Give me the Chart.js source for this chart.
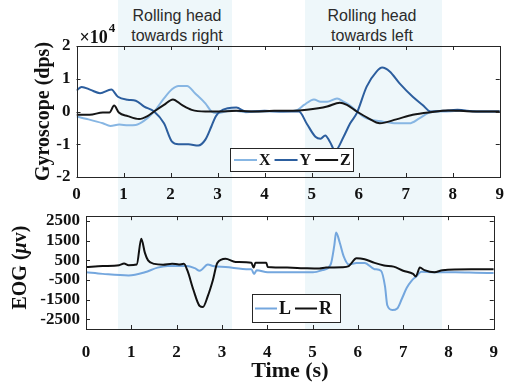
<!DOCTYPE html>
<html>
<head>
<meta charset="utf-8">
<script src="https://cdn.jsdelivr.net/npm/chart.js@4.4.0/dist/chart.umd.min.js"></script>
<style>
  html, body { margin: 0; padding: 0; background: #fff; }
  #fig { position: relative; width: 511px; height: 385px; overflow: hidden; }
  .shade { position: absolute; top: 0; height: 329px; background: #eef7fa; }
  #shadeRight { left: 118px; width: 114px; }
  #shadeLeft { left: 305px; width: 137px; }
  .note { position: absolute; top: 6px; width: 130px; text-align: center;
          font: 16px "Liberation Sans", Arial, sans-serif; line-height: 20px; color: #2b2b2b; }
  #noteRight { left: 112px; }
  #noteLeft { left: 307px; }
  #topBox { position: absolute; left: 0; top: 0; width: 511px; height: 210px; }
  #botBox { position: absolute; left: 0; top: 200px; width: 511px; height: 185px; }
</style>
</head>
<body>
<div id="fig">
  <div class="shade" id="shadeRight"></div>
  <div class="shade" id="shadeLeft"></div>
  <div class="note" id="noteRight">Rolling head<br>towards right</div>
  <div class="note" id="noteLeft">Rolling head<br>towards left</div>
  <div id="topBox"><canvas id="gyroChart"></canvas></div>
  <div id="botBox"><canvas id="eogChart"></canvas></div>
</div>
<script>
// gyroscope, in units of 10^4 dps
const gyroXTime = [0, 0.2, 0.56, 0.72, 0.91, 1.1, 1.26, 1.44, 1.65, 1.86, 2.03, 2.17, 2.35, 2.52, 2.74, 2.87, 3.0, 3.3, 3.6, 4.0, 4.4, 4.7, 4.84, 5.05, 5.19, 5.33, 5.54, 5.68, 5.89, 5.96, 6.17, 6.52, 6.8, 7.08, 7.29, 7.53, 7.8, 8.2, 8.6, 9];
const gyroX = [-0.15, -0.22, -0.36, -0.44, -0.4, -0.42, -0.41, -0.28, 0.0, 0.4, 0.68, 0.78, 0.78, 0.56, 0.25, 0.0, -0.05, 0.03, -0.02, 0.0, 0.0, 0.05, 0.2, 0.37, 0.3, 0.3, 0.4, 0.3, 0.1, 0.0, -0.21, -0.31, -0.36, -0.36, -0.21, -0.02, 0.0, 0.02, 0.0, 0.0];

const gyroYTime = [0, 0.11, 0.3, 0.5, 0.74, 0.88, 1.09, 1.26, 1.44, 1.65, 1.86, 2.03, 2.17, 2.38, 2.59, 2.74, 2.87, 2.96, 3.05, 3.22, 3.4, 3.6, 4.0, 4.4, 4.73, 4.9, 5.08, 5.19, 5.29, 5.39, 5.5, 5.68, 5.82, 5.96, 6.17, 6.38, 6.5, 6.66, 6.87, 7.15, 7.36, 7.53, 7.8, 8.1, 8.5, 9];
const gyroY = [0.64, 0.75, 0.66, 0.56, 0.67, 0.45, 0.36, 0.33, 0.15, 0.0, -0.36, -0.92, -1.0, -1.0, -1.04, -0.86, -0.45, -0.15, 0.0, 0.1, 0.12, 0.0, 0.02, 0.0, 0.0, -0.38, -0.77, -0.83, -0.73, -0.93, -1.2, -0.77, -0.36, -0.05, 0.76, 1.22, 1.34, 1.22, 0.86, 0.45, 0.2, 0.0, 0.02, 0.05, 0.0, 0.0];

const gyroZTime = [0, 0.28, 0.56, 0.7, 0.8, 0.9, 1.09, 1.33, 1.51, 1.65, 1.86, 2.05, 2.24, 2.45, 2.74, 3.0, 3.4, 3.8, 4.2, 4.6, 4.9, 5.33, 5.6, 5.75, 5.96, 6.2, 6.45, 6.8, 7.15, 7.53, 7.9, 8.3, 8.7, 9];
const gyroZ = [-0.1, -0.1, -0.03, -0.03, 0.18, -0.03, -0.14, -0.23, -0.14, 0.0, 0.2, 0.37, 0.2, 0.05, 0.0, 0.0, 0.02, 0.0, 0.02, 0.02, 0.05, 0.15, 0.27, 0.2, 0.0, -0.2, -0.36, -0.24, -0.1, -0.02, 0.03, 0.01, 0.0, 0.0];

// EOG, in microvolts
const eogLTime = [0, 0.37, 0.94, 1.3, 1.58, 1.8, 2.23, 2.4, 2.51, 2.69, 2.8, 3.08, 3.6, 3.65, 3.71, 3.77, 4.01, 4.6, 5.01, 5.22, 5.4, 5.48, 5.52, 5.6, 5.69, 5.8, 5.97, 6.15, 6.37, 6.51, 6.6, 6.65, 6.76, 6.87, 6.97, 7.08, 7.19, 7.3, 7.4, 7.69, 8.15, 8.6, 9];
const eogL = [-110, -190, -270, -110, 130, 210, 210, 100, -30, 290, 210, 160, 50, 50, -190, 0, -110, -110, -110, 0, 290, 1250, 1920, 1410, 690, 290, 370, 370, 50, -30, -830, -1790, -2030, -1950, -1470, -900, -530, -300, -80, -110, -110, -130, -150];

const eogRTime = [0, 0.37, 0.73, 0.84, 0.94, 1.12, 1.22, 1.3, 1.37, 1.51, 1.7, 1.9, 2.05, 2.16, 2.24, 2.37, 2.51, 2.58, 2.69, 2.8, 2.9, 3.08, 3.3, 3.65, 3.7, 3.74, 3.98, 4.01, 4.44, 4.8, 5.15, 5.3, 5.65, 5.8, 5.97, 6.15, 6.37, 6.58, 6.79, 7.0, 7.22, 7.28, 7.37, 7.47, 7.69, 7.87, 8.5, 9];
const eogR = [160, 210, 250, 335, 250, 290, 1600, 880, 500, 320, 280, 330, 290, 320, -30, -1000, -1830, -1880, -1310, -510, 370, 577, 420, 375, 130, 375, 375, 160, 130, 100, 80, 130, 150, 210, 610, 560, 370, 240, 180, -30, -190, -320, 130, 0, -110, 0, 50, 50];

const timeTicks = [0, 1, 2, 3, 4, 5, 6, 7, 8, 9];
const gyroTicks = [-2, -1, 0, 1, 2];
const eogTicks = [-2500, -1500, -500, 500, 1500, 2500];

const SERIF = '"Liberation Serif", "Times New Roman", serif';
const INK = '#111';
const AXIS = '#262626';

function pts(t, v) {
  return t.map((x, i) => ({ x: x, y: v[i] }));
}

function fixTicks(list) {
  return (scale) => { scale.ticks = list.map(v => ({ value: v })); };
}

// MATLAB style box with inward ticks on all four sides
const framePlugin = {
  id: 'frame',
  afterDatasetsDraw(chart) {
    const { ctx, chartArea: a, scales } = chart;
    const len = 4;
    ctx.save();
    ctx.strokeStyle = AXIS;
    ctx.lineWidth = 1;
    ctx.beginPath();
    scales.x.ticks.forEach(t => {
      const px = Math.round(scales.x.getPixelForValue(t.value)) + 0.5;
      ctx.moveTo(px, a.bottom); ctx.lineTo(px, a.bottom - len);
      ctx.moveTo(px, a.top); ctx.lineTo(px, a.top + len);
    });
    scales.y.ticks.forEach(t => {
      const py = Math.round(scales.y.getPixelForValue(t.value)) + 0.5;
      ctx.moveTo(a.left, py); ctx.lineTo(a.left + len, py);
      ctx.moveTo(a.right, py); ctx.lineTo(a.right - len, py);
    });
    ctx.stroke();
    ctx.strokeRect(Math.round(a.left) + 0.5, Math.round(a.top) + 0.5,
                   Math.round(a.width), Math.round(a.height));
    ctx.restore();
  }
};

// legend drawn inside the axes, with a white box
const boxLegend = {
  id: 'boxLegend',
  afterDatasetsDraw(chart, args, opts) {
    if (!opts || opts.left === undefined) return;
    const { ctx } = chart;
    ctx.save();
    ctx.fillStyle = '#fff';
    ctx.fillRect(opts.left, opts.top, opts.width, opts.height);
    ctx.strokeStyle = AXIS;
    ctx.lineWidth = 1;
    ctx.strokeRect(opts.left + 0.5, opts.top + 0.5, opts.width, opts.height);
    ctx.font = opts.font;
    ctx.textBaseline = 'middle';
    const cy = opts.top + opts.height / 2 + 0.5;
    let x = opts.left + opts.pad;
    chart.data.datasets.forEach(ds => {
      ctx.strokeStyle = ds.borderColor;
      ctx.lineWidth = 2;
      ctx.beginPath();
      ctx.moveTo(x, cy);
      ctx.lineTo(x + opts.sample, cy);
      ctx.stroke();
      x += opts.sample + 2;
      ctx.fillStyle = INK;
      ctx.fillText(ds.label, x, cy + 1);
      x += ctx.measureText(ds.label).width + opts.gap;
    });
    ctx.restore();
  }
};

// "x10^4" exponent label above the top axes
const exponentLabel = {
  id: 'exponentLabel',
  afterDraw(chart, args, opts) {
    if (!opts || !opts.text) return;
    const { ctx, chartArea: a } = chart;
    ctx.save();
    ctx.fillStyle = INK;
    ctx.textBaseline = 'middle';
    ctx.font = 'bold 18px ' + SERIF;
    const x0 = a.left + 3;
    ctx.fillText(opts.text, x0, a.top - 8);
    const w = ctx.measureText(opts.text).width;
    ctx.font = 'bold 13px ' + SERIF;
    ctx.fillText(opts.exp, x0 + w + 1, a.top - 17);
    ctx.restore();
  }
};

// y title with an italic mu
const eogTitle = {
  id: 'eogTitle',
  afterDraw(chart, args, opts) {
    if (!opts || !opts.parts) return;
    const { ctx, chartArea: a } = chart;
    ctx.save();
    ctx.translate(opts.x, (a.top + a.bottom) / 2 - 5);
    ctx.rotate(-Math.PI / 2);
    ctx.fillStyle = INK;
    ctx.textBaseline = 'middle';
    let total = 0;
    opts.parts.forEach(p => { ctx.font = p.font; total += ctx.measureText(p.text).width; });
    let x = -total / 2;
    opts.parts.forEach(p => {
      ctx.font = p.font;
      ctx.fillText(p.text, x, 0);
      x += ctx.measureText(p.text).width;
    });
    ctx.restore();
  }
};

Chart.register(framePlugin, boxLegend, exponentLabel, eogTitle);

function lineSet(label, t, v, color, order) {
  return {
    label: label,
    data: pts(t, v),
    borderColor: color,
    borderWidth: 2,
    pointRadius: 0,
    cubicInterpolationMode: 'monotone',
    fill: false,
    order: order
  };
}

function xScale(height, pad, title) {
  return {
    type: 'linear',
    min: 0,
    max: 9,
    afterBuildTicks: fixTicks(timeTicks),
    afterFit: (s) => { s.height = height; },
    grid: { display: false, drawTicks: false },
    border: { display: false },
    ticks: { color: INK, padding: pad, maxRotation: 0, autoSkip: false,
             callback: (v) => String(v),
             font: { family: SERIF, size: 17, weight: 'bold' } },
    title: title
  };
}

function yScale(min, max, list, width, title) {
  return {
    type: 'linear',
    min: min,
    max: max,
    afterBuildTicks: fixTicks(list),
    afterFit: (s) => { s.width = width; },
    grid: { display: false, drawTicks: false },
    border: { display: false },
    ticks: { color: INK, padding: 6, autoSkip: false,
             callback: (v) => String(v),
             font: { family: SERIF, size: 17, weight: 'bold' } },
    title: title
  };
}

const gyroChart = new Chart(document.getElementById('gyroChart'), {
  type: 'line',
  data: {
    datasets: [
      lineSet('X', gyroXTime, gyroX, '#87b6e3', 3),
      lineSet('Y', gyroYTime, gyroY, '#2c5e9e', 2),
      lineSet('Z', gyroZTime, gyroZ, '#161616', 1)
    ]
  },
  options: {
    responsive: true,
    maintainAspectRatio: false,
    animation: false,
    layout: { padding: { top: 46, right: 5.5, left: 0, bottom: 0 } },
    plugins: {
      legend: { display: false },
      tooltip: { enabled: false },
      boxLegend: { left: 230, top: 148, width: 123, height: 23, pad: 4, sample: 23, gap: 4,
                   font: 'bold 16px ' + SERIF },
      exponentLabel: { text: '\u00d710', exp: '4' }
    },
    scales: {
      x: xScale(33, 7, { display: false }),
      y: yScale(-2, 2, gyroTicks, 76.5, {
        display: true, text: 'Gyroscope (dps)', color: INK,
        font: { family: SERIF, size: 20, weight: 'bold' },
        padding: { top: 32, bottom: 0 }
      })
    }
  }
});

const eogChart = new Chart(document.getElementById('eogChart'), {
  type: 'line',
  data: {
    datasets: [
      lineSet('L', eogLTime, eogL, '#74a7de', 2),
      lineSet('R', eogRTime, eogR, '#111111', 1)
    ]
  },
  options: {
    responsive: true,
    maintainAspectRatio: false,
    animation: false,
    layout: { padding: { top: 10, right: 5, left: 0, bottom: 0 } },
    plugins: {
      legend: { display: false },
      tooltip: { enabled: false },
      boxLegend: { left: 252, top: 94, width: 88, height: 28, pad: 3, sample: 22, gap: 4,
                   font: 'bold 18px ' + SERIF },
      eogTitle: {
        x: 21,
        parts: [
          { text: 'EOG (', font: 'bold 20px ' + SERIF },
          { text: '\u03bc', font: 'italic bold 20px ' + SERIF },
          { text: 'v)', font: 'bold 20px ' + SERIF }
        ]
      }
    },
    scales: {
      x: xScale(56, 13, {
        display: true, text: 'Time (s)', color: INK,
        font: { family: SERIF, size: 22, weight: 'bold' },
        padding: { top: 0, bottom: 0 }
      }),
      y: yScale(-3000, 2750, eogTicks, 86, { display: false })
    }
  }
});
</script>
</body>
</html>
